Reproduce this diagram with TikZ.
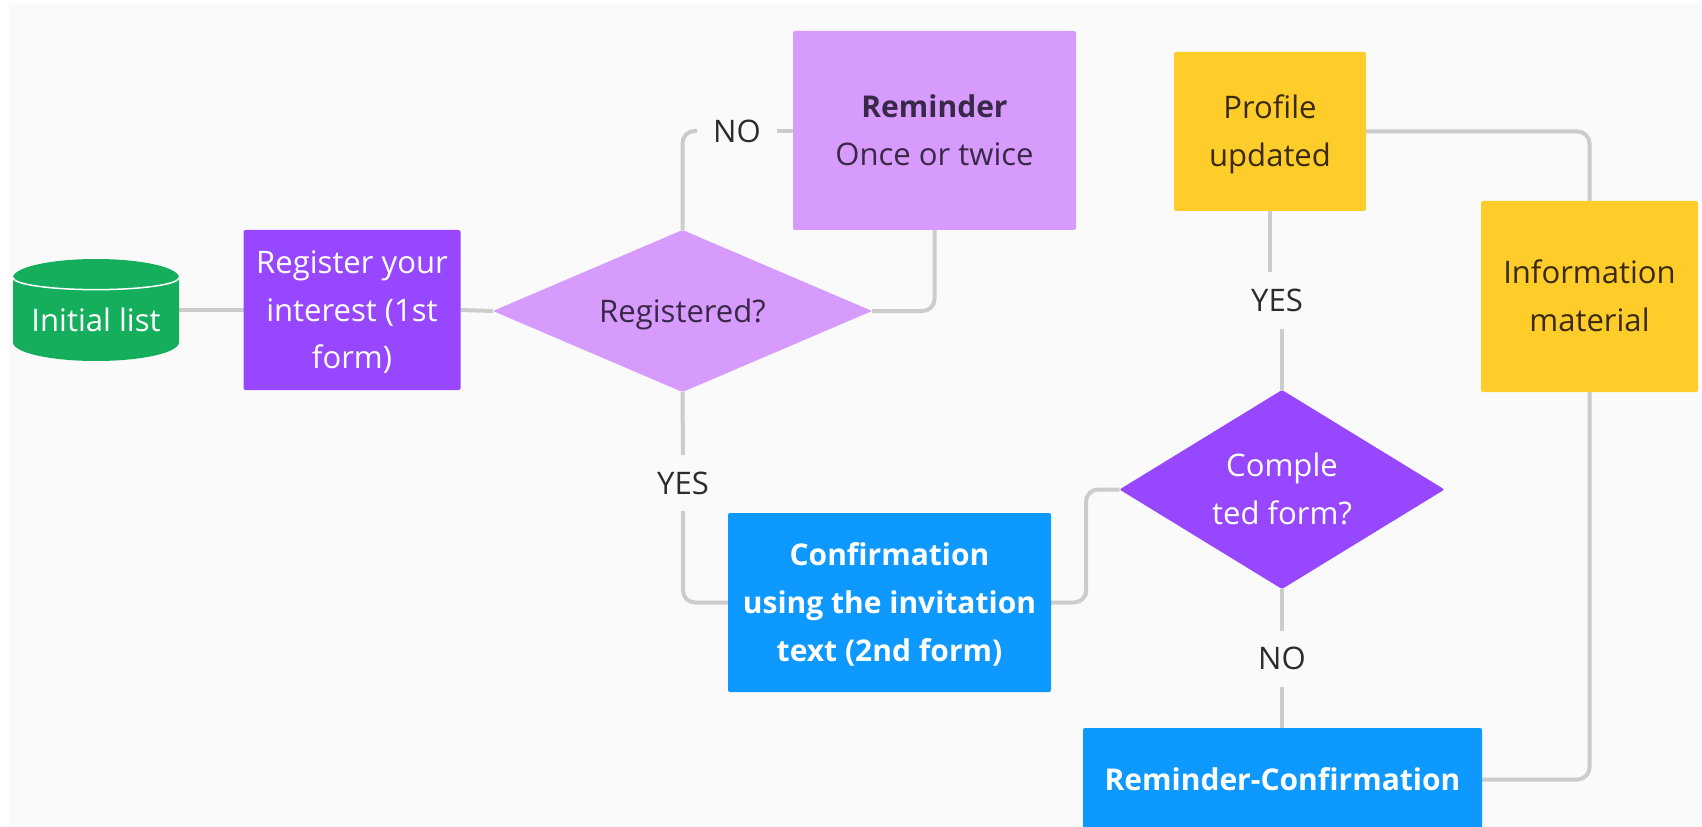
\documentclass[tikz,border=0pt]{standalone}
\usepackage{fontspec}
\setmainfont{Open Sans}
\usetikzlibrary{shapes.geometric}
\definecolor{pagebg}{HTML}{FAFAFA}
\definecolor{grn}{HTML}{14AE5C}
\definecolor{vio}{HTML}{9747FF}
\definecolor{lil}{HTML}{D69BFD}
\definecolor{blu}{HTML}{0D99FF}
\definecolor{yel}{HTML}{FFCD29}
\definecolor{line}{HTML}{CCCCCC}
\definecolor{ink}{HTML}{2C2C30}
\definecolor{inkvio}{HTML}{3A2848}
\definecolor{inkyel}{HTML}{3A2A10}
\def\pxu{0.75pt}
\newcommand\lstrut{\rule[-.243em]{0pt}{1.2em}}
\newcommand\bfx[1]{{\fontsize{22.5}{35.8}\selectfont\bfseries #1}}
\pgfdeclarelayer{paper}\pgfdeclarelayer{links}\pgfsetlayers{paper,links,main}
\tikzset{
  x=\pxu,y=-\pxu,
  txt/.style={font=\fontsize{23.3}{35.8}\selectfont,align=center,inner sep=0pt,outer sep=0pt},
  box/.style={txt,rectangle,rounded corners=1.5pt},
  dia/.style={txt,diamond,rounded corners=1pt},
  conn/.style={draw=line,line width=4*\pxu,rounded corners=9pt},
  lab/.style={txt,text=ink,minimum width=80*\pxu,minimum height=56*\pxu},
}
\begin{document}
\begin{tikzpicture}
\useasboundingbox (0,0) rectangle (1702,827);
\begin{pgfonlayer}{paper}
\fill[pagebg] (9,4) rectangle (1702,827);
\end{pgfonlayer}
\node[txt,cylinder,shape border rotate=90,aspect=0.289,fill=grn,minimum width=166*\pxu,minimum height=102*\pxu,text=white,anchor=shape center] (cyl) at (96,310) {\lstrut\raisebox{-1pt}[0pt][0pt]{Initial list}};
\node[box,fill=vio,text=white,minimum width=217*\pxu,minimum height=160*\pxu] (reg) at (352,310) {\lstrut Register your\\interest (1st\\form)\lstrut};
\node[dia,fill=lil,text=inkvio,aspect=2.34,minimum width=379*\pxu,minimum height=162*\pxu] (d1) at (682.5,311) {\lstrut Registered?};
\node[box,fill=lil,text=inkvio,minimum width=283*\pxu,minimum height=199*\pxu] (rem) at (934.5,130.5) {\lstrut\bfx{Reminder}\\Once or twice\lstrut};
\node[box,fill=yel,text=inkyel,minimum width=192*\pxu,minimum height=159*\pxu] (prof) at (1270,131.5) {\lstrut Profile\\updated\lstrut};
\node[box,fill=yel,text=inkyel,minimum width=217*\pxu,minimum height=191*\pxu] (info) at (1589.5,296.5) {\lstrut Information\\material\lstrut};
\node[box,fill=blu,text=white,minimum width=323*\pxu,minimum height=179*\pxu] (conf) at (889.5,602.5) {\lstrut\bfx{Confirmation}\\\bfx{using the invitation}\\\bfx{text (2nd form)}\lstrut};
\node[dia,fill=vio,text=white,aspect=1.63,minimum width=325*\pxu,minimum height=199*\pxu] (d2) at (1282,489.5) {\lstrut Comple\\ted form?\lstrut};
\node[box,fill=blu,text=white,minimum width=399*\pxu,minimum height=103*\pxu] (remc) at (1282.5,779.5) {\lstrut\bfx{Reminder-Confirmation}};
\node[lab] (no1) at (737,131) {\lstrut NO};
\node[lab] (yes1) at (683,483) {\lstrut YES};
\node[lab] (yes2) at (1277,300.5) {\lstrut YES};
\node[lab] (no2) at (1282,658.5) {\lstrut NO};
\draw[white,line width=1.5*\pxu] (cyl.before top) arc[start angle=180,end angle=0,x radius=83,y radius=12];
\begin{pgfonlayer}{links}
\draw[conn] (cyl.shape center) -- (cyl.shape center -| reg.west);
\draw[conn] (reg.east) -- (d1.west);
\draw[conn] (d1.north) |- (no1.west);
\draw[conn] (no1.east) -- (rem.west |- no1.east);
\draw[conn] (rem.south) |- (d1.east);
\draw[conn] (d1.south) -- (yes1.north);
\draw[conn] (yes1.south) |- (conf.west);
\draw[conn] (conf.east) -| ([xshift=35*\pxu]conf.east) |- (d2.west);
\draw[conn] (d2.south) -- (no2.north);
\draw[conn] (no2.south) -- (remc.north -| no2.south);
\draw[conn] (d2.north) -- (d2.north |- yes2.south);
\draw[conn] (prof.south) -- (prof.south |- yes2.north);
\draw[conn] (prof.east) -| (info.north);
\draw[conn] (remc.east) -| (info.south);
\end{pgfonlayer}
\end{tikzpicture}
\end{document}
